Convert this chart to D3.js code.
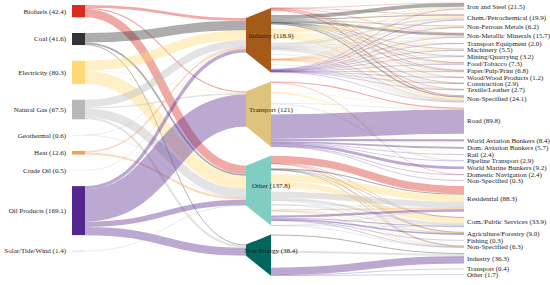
<!DOCTYPE html>
<html>
<head>
<meta charset="utf-8">
<script src="https://cdn.jsdelivr.net/npm/d3@7"></script>
<style>
  body { margin: 0; background: #fff; }
  text { font-family: "Liberation Serif", serif; font-size: 7px; fill: #222; }
</style>
</head>
<body>
<div id="chart"></div>
<script>
// ---- data ----
const fuels = ["Biofuels", "Coal", "Electricity", "Natural Gas", "Geothermal", "Heat", "Crude Oil", "Oil Products", "Solar/Tide/Wind"];
const fuelValues = [42.4, 41.6, 80.3, 67.5, 0.6, 12.6, 0.5, 169.1, 1.4];
const fuelColors = ["#d92b21", "#333333", "#fed976", "#b8b8b8", "#9fb4c8", "#f4a25a", "#c8b4a0", "#54278f", "#8fa8c8"];

const sectors = ["Industry", "Transport", "Other", "Non-Energy"];
const sectorValues = [118.9, 121, 137.8, 38.4];
const sectorColors = ["#a65a1a", "#dfc27d", "#80cdc1", "#01665e"];

// fuel -> sector (rows follow fuels, columns follow sectors)
const fuelToSector = [
  [9.5, 3.9, 29.0, 0],
  [32.6, 0, 5.8, 3.2],
  [33.5, 1.5, 45.3, 0],
  [25.5, 4.6, 30.1, 7.3],
  [0.1, 0, 0.5, 0],
  [5.6, 0, 7.0, 0],
  [0.5, 0, 0, 0],
  [11.6, 110.9, 18.7, 27.9],
  [0, 0, 1.4, 0]
];

// sub-sectors; each mix row follows the fuels order
const industryNames = ["Iron and Steel", "Chem./Petrochemical", "Non-Ferrous Metals", "Non-Metallic Minerals",
  "Transport Equipment", "Machinery", "Mining/Quarrying", "Food/Tobacco", "Paper/Pulp/Print",
  "Wood/Wood Products", "Construction", "Textile/Leather", "Non-Specified"];
const industryValues = [21.5, 19.9, 6.2, 15.7, 2.0, 5.5, 3.2, 7.3, 6.8, 1.2, 2.9, 2.7, 24.1];
const industryMix = [
  [0.2, 13.0, 4.6, 2.6, 0, 0.6, 0, 0.5, 0],
  [0.3, 3.2, 5.2, 7.0, 0, 1.4, 0, 2.8, 0],
  [0, 0.6, 4.0, 1.0, 0, 0.2, 0, 0.4, 0],
  [0.6, 8.6, 2.2, 2.6, 0, 0.2, 0, 1.5, 0],
  [0, 0, 1.2, 0.6, 0, 0.1, 0, 0.1, 0],
  [0, 0.2, 3.2, 1.3, 0, 0.3, 0, 0.5, 0],
  [0, 0.2, 1.2, 0.4, 0, 0, 0, 1.4, 0],
  [1.6, 0.9, 1.6, 2.3, 0, 0.3, 0, 0.6, 0],
  [2.7, 0.6, 1.6, 1.4, 0, 0.3, 0, 0.2, 0],
  [0.6, 0, 0.4, 0.1, 0, 0, 0, 0.1, 0],
  [0, 0.2, 0.8, 0.4, 0, 0.1, 0, 1.4, 0],
  [0, 0.5, 1.2, 0.5, 0, 0.3, 0, 0.2, 0],
  [3.5, 4.6, 6.3, 5.3, 0.1, 1.8, 0.5, 2.0, 0]
];

const transportNames = ["Road", "World Aviation Bunkers", "Dom. Aviation Bunkers", "Rail", "Pipeline Transport",
  "World Marine Bunkers", "Domestic Navigation", "Non-Specified"];
const transportValues = [89.8, 8.4, 5.7, 2.4, 2.9, 9.2, 2.4, 0.3];
const transportMix = [
  [3.8, 0, 0.3, 1.9, 0, 0, 0, 83.8, 0],
  [0, 0, 0, 0, 0, 0, 0, 8.4, 0],
  [0, 0, 0, 0, 0, 0, 0, 5.7, 0],
  [0, 0, 1.0, 0, 0, 0, 0, 1.4, 0],
  [0, 0, 0.1, 2.7, 0, 0, 0, 0.1, 0],
  [0, 0, 0, 0, 0, 0, 0, 9.2, 0],
  [0.1, 0, 0, 0, 0, 0, 0, 2.3, 0],
  [0, 0, 0.1, 0, 0, 0, 0, 0.2, 0]
];

const otherNames = ["Residential", "Com./Public Services", "Agriculture/Forestry", "Fishing", "Non-Specified"];
const otherValues = [88.3, 33.9, 9.0, 0.3, 6.3];
const otherMix = [
  [26.0, 3.8, 24.0, 21.0, 0.2, 4.4, 0, 8.0, 0.9],
  [1.4, 0.8, 17.6, 8.4, 0.2, 2.2, 0, 3.0, 0.3],
  [0.4, 0.5, 2.2, 0.3, 0.1, 0.2, 0, 5.3, 0],
  [0, 0, 0, 0, 0, 0, 0, 0.3, 0],
  [1.2, 0.7, 1.5, 0.4, 0, 0.2, 0, 2.1, 0.2]
];

const nonEnergyNames = ["Industry", "Transport", "Other"];
const nonEnergyValues = [36.3, 0.4, 1.7];
const nonEnergyMix = [
  [0, 3.2, 0, 7.3, 0, 0, 0, 25.8, 0],
  [0, 0, 0, 0, 0, 0, 0, 0.4, 0],
  [0, 0, 0, 0, 0, 0, 0, 1.7, 0]
];

// ---- layout ----
const width = 550, height = 285;
const size = d3.scaleLinear().domain([0, 100]).range([0, 29]);
const xLeft = [72, 85], xMid = [246, 271], xRight = 464;
const leftTop = 5, leftGap = 15.7;
const rightTop = 3, rightGap = 5.4;
const midTop = 8, midGap = 9, midSpread = 30;
const linkOpacity = 0.4;

const svg = d3.select("#chart").append("svg")
  .attr("width", width)
  .attr("height", height);

// left nodes
let y = leftTop;
const leftNodes = fuels.map((name, i) => {
  const n = {name, value: fuelValues[i], color: fuelColors[i], y0: y, y1: y + size(fuelValues[i])};
  y = n.y1 + leftGap;
  return n;
});

// right nodes
const groups = [
  [industryNames, industryValues, industryMix],
  [transportNames, transportValues, transportMix],
  [otherNames, otherValues, otherMix],
  [nonEnergyNames, nonEnergyValues, nonEnergyMix]
];
const rightNodes = [];
y = rightTop;
groups.forEach(([names, values, mix], s) => {
  names.forEach((name, i) => {
    const n = {name, value: values[i], sector: s, mix: mix[i], y0: y, y1: y + size(values[i])};
    y = n.y1 + rightGap;
    rightNodes.push(n);
  });
});

// right-side links, grouped by sector then fuel then sub-sector
const rightLinks = [];
const midNodes = sectors.map((name, s) => ({name, value: sectorValues[s], color: sectorColors[s]}));
y = midTop;
midNodes.forEach((m, s) => {
  const subs = rightNodes.filter(r => r.sector === s);
  const byFuel = fuels.map((f, fi) => subs.filter(r => r.mix[fi] > 0).map(r => ({fuel: fi, target: r, value: r.mix[fi]})));
  const used = byFuel.filter(g => g.length);
  const total = d3.sum(used, g => d3.sum(g, l => l.value));
  const gap = used.length > 1 ? midSpread / (used.length - 1) : 0;
  m.r0 = y;
  let yy = y;
  used.forEach(g => {
    g.forEach(l => {
      l.sy = yy + size(l.value) / 2;
      yy += size(l.value);
      rightLinks.push(l);
    });
    yy += gap;
  });
  m.r1 = yy - gap;
  y = m.r1 + midGap;
  // left side centred a little above the right side
  const c = (m.r0 + m.r1) / 2 - 5;
  const hIn = size(d3.sum(fuelToSector, row => row[s]));
  m.l0 = c - hIn / 2;
  m.l1 = c + hIn / 2;
});

// end points on the right nodes, in fuel order
rightNodes.forEach(r => {
  let yy = r.y0;
  fuels.forEach((f, fi) => {
    const l = rightLinks.find(l => l.target === r && l.fuel === fi);
    if (l) { l.ty = yy + size(l.value) / 2; yy += size(l.value); }
  });
});

// left links
const leftLinks = [];
fuels.forEach((f, fi) => {
  let yy = leftNodes[fi].y0;
  sectors.forEach((s, si) => {
    const v = fuelToSector[fi][si];
    if (v > 0) {
      leftLinks.push({fuel: fi, sector: si, value: v, sy: yy + size(v) / 2});
      yy += size(v);
    }
  });
});
midNodes.forEach((m, si) => {
  let yy = m.l0;
  leftLinks.filter(l => l.sector === si).forEach(l => {
    l.ty = yy + size(l.value) / 2;
    yy += size(l.value);
  });
});

const link = d3.linkHorizontal();

svg.append("g").attr("fill", "none")
  .selectAll("path")
  .data(leftLinks)
  .join("path")
    .attr("d", d => link({source: [xLeft[1], d.sy], target: [xMid[0], d.ty]}))
    .attr("stroke", d => fuelColors[d.fuel])
    .attr("stroke-opacity", linkOpacity)
    .attr("stroke-width", d => Math.max(size(d.value), 0.6));

svg.append("g").attr("fill", "none")
  .selectAll("path")
  .data(rightLinks)
  .join("path")
    .attr("d", d => link({source: [xMid[1], d.sy], target: [xRight, d.ty]}))
    .attr("stroke", d => fuelColors[d.fuel])
    .attr("stroke-opacity", linkOpacity)
    .attr("stroke-width", d => Math.max(size(d.value), 0.6));

// left nodes + labels
svg.append("g")
  .selectAll("rect")
  .data(leftNodes)
  .join("rect")
    .attr("x", xLeft[0])
    .attr("y", d => d.y0)
    .attr("width", xLeft[1] - xLeft[0])
    .attr("height", d => d.y1 - d.y0)
    .attr("fill", d => d.color);

svg.append("g")
  .selectAll("text")
  .data(leftNodes)
  .join("text")
    .attr("x", xLeft[0] - 6)
    .attr("y", d => (d.y0 + d.y1) / 2)
    .attr("dy", "0.35em")
    .attr("text-anchor", "end")
    .text(d => `${d.name} (${d.value})`);

// middle nodes drawn as trapezoids
svg.append("g")
  .selectAll("path")
  .data(midNodes)
  .join("path")
    .attr("d", d => `M${xMid[0]},${d.l0}L${xMid[1]},${d.r0}L${xMid[1]},${d.r1}L${xMid[0]},${d.l1}Z`)
    .attr("fill", d => d.color);

svg.append("g")
  .selectAll("text")
  .data(midNodes)
  .join("text")
    .attr("x", xMid[1])
    .attr("y", d => (d.l0 + d.l1) / 2)
    .attr("dy", "0.35em")
    .attr("text-anchor", "middle")
    .text(d => `${d.name} (${d.value})`);

// right labels
svg.append("g")
  .selectAll("text")
  .data(rightNodes)
  .join("text")
    .attr("x", xRight + 3)
    .attr("y", d => (d.y0 + d.y1) / 2)
    .attr("dy", "0.35em")
    .text(d => `${d.name} (${d.value.toFixed(1)})`);
</script>
</body>
</html>
